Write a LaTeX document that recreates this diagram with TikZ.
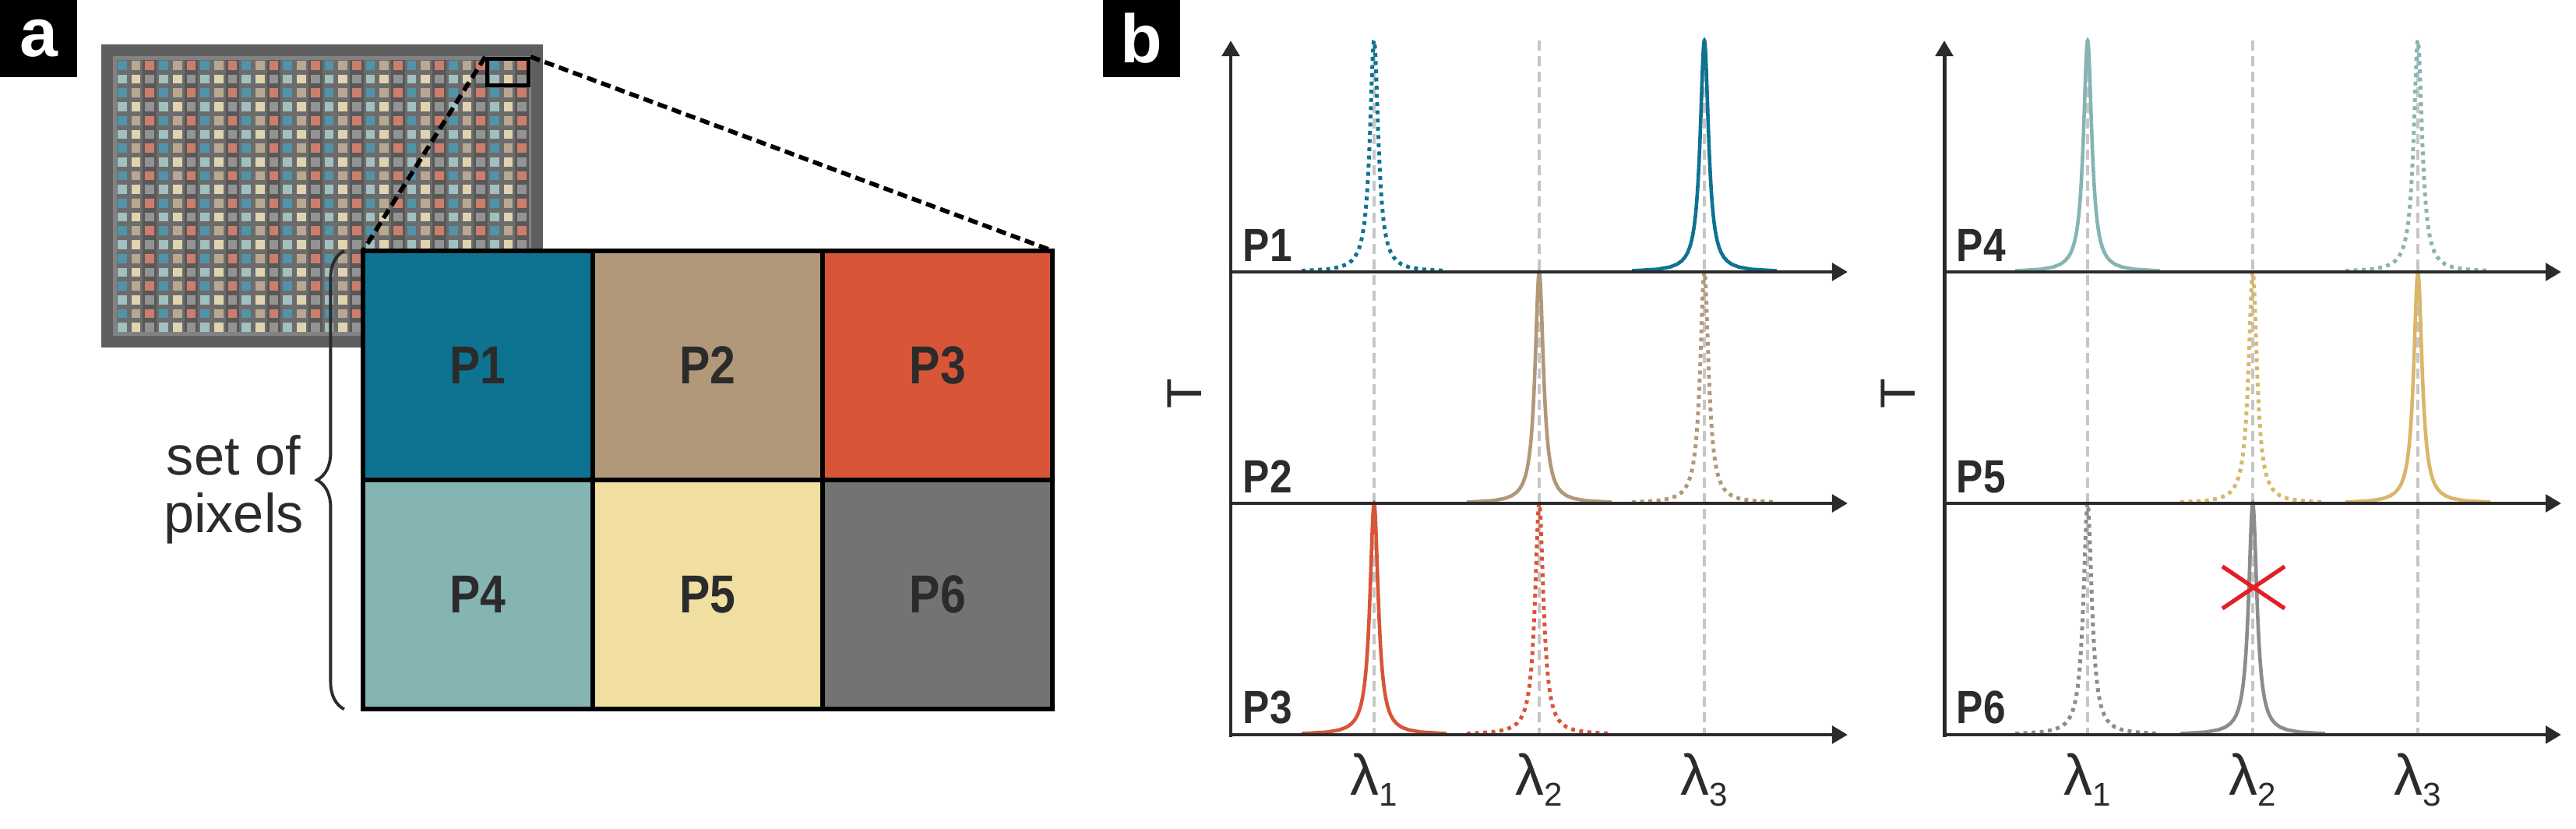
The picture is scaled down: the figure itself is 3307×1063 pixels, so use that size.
\documentclass[tikz,border=0pt]{standalone}
\usepackage{fontspec}
\setmainfont{Liberation Sans}
\newfontfamily\narrowsf[FakeStretch=0.86]{Liberation Sans}
\usepackage{tikz}
\usetikzlibrary{arrows.meta,positioning,decorations.pathreplacing}

\definecolor{txt}{HTML}{2B2B2B}
\definecolor{pone}{HTML}{0D7391}
\definecolor{ptwo}{HTML}{B09878}
\definecolor{pthree}{HTML}{D85538}
\definecolor{pfour}{HTML}{85B5B3}
\definecolor{pfive}{HTML}{F0DFA0}
\definecolor{psix}{HTML}{737373}
\definecolor{pfivepk}{HTML}{D9B66A}
\definecolor{psixpk}{HTML}{8C8C8C}
\definecolor{chipedge}{HTML}{5F5F5F}
\definecolor{chiprim}{HTML}{828282}
\definecolor{chipbg}{HTML}{6C6C6C}
\definecolor{chipband}{HTML}{585858}
\definecolor{mos0}{HTML}{5193A8}
\definecolor{mos1}{HTML}{B8A892}
\definecolor{mos2}{HTML}{CC7E6C}
\definecolor{mos3}{HTML}{A0C1BF}
\definecolor{mos4}{HTML}{DFD4AF}
\definecolor{mos5}{HTML}{939393}
\definecolor{crossred}{HTML}{E31E26}

\begin{document}
\begin{tikzpicture}[x=0.01cm,y=-0.01cm,
  panel/.style={fill=black,text=white,minimum size=0.99cm,inner sep=0pt,font=\fontsize{25}{25}\selectfont\bfseries},
  cell/.style={draw=black,line width=1.7pt,minimum width=2.95cm,minimum height=2.94cm,inner sep=0pt,outer sep=0pt,text=txt,font=\narrowsf\fontsize{19.5}{19.5}\selectfont\bfseries},
  zoombox/.style={draw=black,line width=1.5pt,minimum width=0.53cm,minimum height=0.34cm,inner sep=0pt},
  link/.style={black,line width=1.6pt,dash pattern=on 3.6pt off 1.9pt},
  brace/.style={decorate,decoration={brace,amplitude=0.35cm},txt,line width=1.1pt},
  axisline/.style={draw=txt,line width=1.4pt,-{Triangle[length=5.7pt,width=6.3pt]}},
  guide/.style={gray!45,line width=1.2pt,dash pattern=on 3.7pt off 2pt},
  peak/.style={line width=1.3pt},
  dotpeak/.style={line width=1.4pt,dash pattern=on 1.4pt off 1.6pt},
  plabel/.style={anchor=base west,inner sep=0pt,text=txt,font=\narrowsf\fontsize{17}{17}\selectfont\bfseries},
  lam/.style={anchor=base,inner sep=0pt,text=txt,font=\fontsize{21}{21}\selectfont}]
  \useasboundingbox (0,0) rectangle (3307,1063);

  % panel a: sensor
  \node[panel] (la) at (49.5,49.5) {a};
  \fill[chipedge] (130,57) rectangle (697,446);
  \fill[chiprim] (145,72) rectangle (682,431);
  \fill[chipbg] (150,77) rectangle (677,426);
  \foreach \i in {2,5,...,29}
    \fill[chipband] ({148+\i*17.7},77) rectangle ({148+\i*17.7+17.7},426);
  \foreach \i in {0,...,29}
    \foreach \j in {0,...,19} {
      \pgfmathtruncatemacro\k{3*mod(\j,2)+mod(\i,3)}
      \fill[mos\k] ({151+\i*17.7},{78+\j*17.7}) rectangle +(11.7,11.7);
    }
  \node[zoombox] (zbox) at (652,92.5) {};

  % set of pixels
  \node[cell,fill=pone] (c1) at (613.5,469) {P1};
  \node[cell,fill=ptwo,right=0pt of c1] (c2) {P2};
  \node[cell,fill=pthree,right=0pt of c2] (c3) {P3};
  \node[cell,fill=pfour,below=0pt of c1] (c4) {P4};
  \node[cell,fill=pfive,right=0pt of c4] (c5) {P5};
  \node[cell,fill=psix,right=0pt of c5] (c6) {P6};

  \draw[link] (zbox.north west) -- (c1.north west);
  \draw[link] (zbox.north east) -- (c3.north east);
  \draw[brace] ([xshift=-0.24cm]c4.south west) -- ([xshift=-0.24cm]c1.north west);
  \node[text=txt,align=center,font=\fontsize{20}{21}\selectfont] (setpx) at (300,628) {set of\\pixels};

  % panel b: spectra
  \node[panel] (lb) at (1465.5,49.5) {b};
  \foreach \ox in {1580,2496}
    \foreach \lx in {184,396,608}
      \draw[guide] ({\ox+\lx},52) -- ({\ox+\lx},943);

  \foreach \px/\py/\pc/\ps in {1764/349/pone/dotpeak, 2188/349/pone/peak,
      1976/646/ptwo/peak, 2188/646/ptwo/dotpeak,
      1764/943/pthree/peak, 1976/943/pthree/dotpeak,
      2680/349/pfour/peak, 3104/349/pfour/dotpeak,
      2892/646/pfivepk/dotpeak, 3104/646/pfivepk/peak,
      2680/943/psixpk/dotpeak, 2892/943/psixpk/peak}
    \draw[\ps,\pc] plot[domain=-86:86,samples=81] ({\px+6.5*tan(\x)},{\py-297*cos(\x)*cos(\x)});

  \foreach \ox in {1580,2496} {
    \draw[axisline] ({\ox},945.5) -- ({\ox},52);
    \foreach \yb in {349,646,943}
      \draw[axisline] ({\ox},\yb) -- ({\ox+792},\yb);
  }

  \node[rotate=90,text=txt,font=\fontsize{18}{18}\selectfont] (tleft) at (1521,505) {T};
  \node[rotate=90,text=txt,font=\fontsize{18}{18}\selectfont] (tright) at (2437,505) {T};

  \node[plabel] (lp1) at (1595,335) {P1};
  \node[plabel] (lp2) at (1595,632) {P2};
  \node[plabel] (lp3) at (1595,928) {P3};
  \node[plabel] (lp4) at (2511,335) {P4};
  \node[plabel] (lp5) at (2511,632) {P5};
  \node[plabel] (lp6) at (2511,928) {P6};

  \foreach \ox/\side in {1580/l,2496/r}
    \foreach \lx/\n in {184/1,396/2,608/3}
      \node[lam] (lam\side\n) at ({\ox+\lx},1020) {λ\raisebox{-4pt}{\fontsize{12}{12}\selectfont\n}};

  \draw[crossred,line width=1.5pt] (2853,727) -- (2933,781) (2853,781) -- (2933,727);
\end{tikzpicture}
\end{document}
